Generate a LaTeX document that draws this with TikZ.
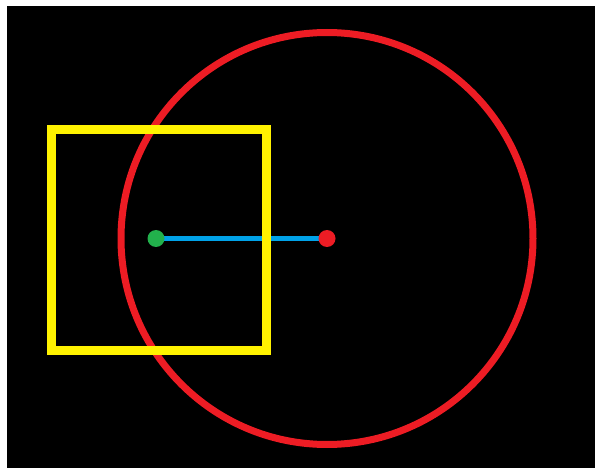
\documentclass[tikz,border=0pt]{standalone}
\usetikzlibrary{calc}
\definecolor{paintred}{RGB}{237,28,36}
\definecolor{paintyellow}{RGB}{255,242,0}
\definecolor{paintgreen}{RGB}{34,177,76}
\definecolor{paintblue}{RGB}{0,162,232}

\begin{document}
\begin{tikzpicture}[x=1pt, y=-1pt]
            \useasboundingbox (0,0) rectangle (595,468);
            \fill[black] (7,6) rectangle (595,468);
            \coordinate (O) at (327,238.5);
            \coordinate (G) at (156,238.5);
            \coordinate (R) at (533,238.5);
            \coordinate (S_1) at (51,130);
            \coordinate (S_2) at (266,350);
            \draw[paintred, line width=7pt] let \p1 = ($(R)-(O)$) in (O) circle ({veclen(\x1,\y1)});
            \draw[paintblue, line width=5pt] (G) -- (O);
            %\draw[paintblue, dashed] (O) -- (R);
            \draw[paintyellow, line width=9pt] (S_1) rectangle (S_2);
            \fill[paintgreen] (G) circle (8.5);
            \fill[paintred] (O) circle (8.5);
        \end{tikzpicture}
\end{document}
